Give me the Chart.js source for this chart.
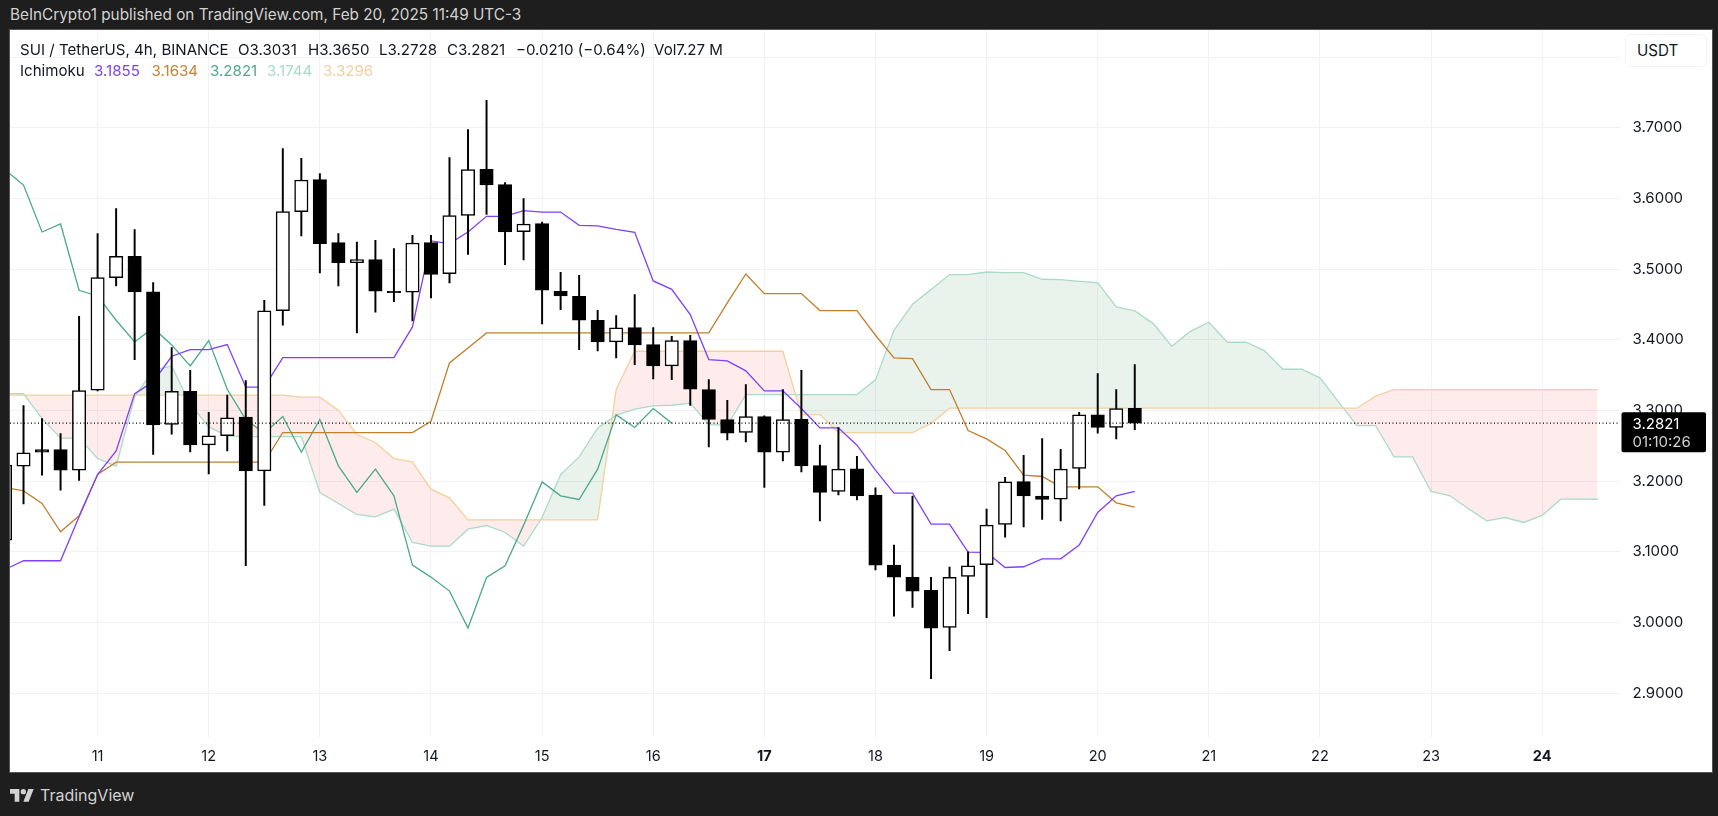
<!DOCTYPE html>
<html>
<head>
<meta charset="utf-8">
<title>SUI / TetherUS Ichimoku</title>
<script src="https://cdn.jsdelivr.net/npm/chart.js@4"></script>
<style>
  html, body { margin: 0; padding: 0; background: #1e1e1e; width: 1718px; height: 816px; overflow: hidden; }
  body { font-family: Inter, "Noto Sans", sans-serif; position: relative; }
  #published { position: absolute; left: 10px; top: 6px; color: #d2d2d2; font-size: 15.3px; line-height: 18px; white-space: nowrap; }
  #frame { position: absolute; left: 10px; top: 30px; width: 1702px; height: 742px; background: #fff; box-shadow: 0 0 0 1px #555; }
  canvas { position: absolute; left: 0; top: -21px; }
  .info { position: absolute; color: #131722; font-size: 15.1px; line-height: 18px; white-space: nowrap; }
  .row1 { top: 11px; }
  .row2 { top: 32px; }
  #usdt { position: absolute; left: 1615px; top: 4px; width: 82px; height: 33px; box-sizing: border-box; border: 1px solid #f0f3fa; border-radius: 6px; background: #fff; color: #131722; font-size: 15.2px; line-height: 32px; padding-left: 11px; }
  #brand { position: absolute; left: 10px; top: 786px; color: #d2d2d2; font-size: 16px; line-height: 18px; }
  #brand svg { position: absolute; left: 0; top: 2px; }
  #brand span { position: absolute; left: 30px; top: 0; }
</style>
</head>
<body>
<div id="published">BeInCrypto1 published on TradingView.com, Feb 20, 2025 11:49 UTC-3</div>
<div id="frame">
  <canvas id="myChart" width="1702" height="763"></canvas>
  <span class="info row1" style="left:10px">SUI / TetherUS, 4h, BINANCE</span>
  <span class="info row1" style="left:228px">O3.3031</span>
  <span class="info row1" style="left:298px">H3.3650</span>
  <span class="info row1" style="left:369px">L3.2728</span>
  <span class="info row1" style="left:437px">C3.2821</span>
  <span class="info row1" style="left:506px">−0.0210 (−0.64%)</span>
  <span class="info row1" style="left:644px">Vol7.27 M</span>
  <span class="info row2" style="left:10px">Ichimoku</span>
  <span class="info row2" style="left:84px;color:#7f3fff">3.1855</span>
  <span class="info row2" style="left:141.5px;color:#c58434">3.1634</span>
  <span class="info row2" style="left:200px;color:#4ca98b">3.2821</span>
  <span class="info row2" style="left:257px;color:#abdac8">3.1744</span>
  <span class="info row2" style="left:313px;color:#f4cf9f">3.3296</span>
  <div id="usdt">USDT</div>
</div>
<div id="brand">
  <svg width="24" height="14" viewBox="0 0 36 20"><path fill="#d2d2d2" d="M14 20H7V8H0V1h14v19zM28 20h-8l7.5-19h8L28 20z"/><circle fill="#d2d2d2" cx="20" cy="5" r="4"/></svg>
  <span>TradingView</span>
</div>
<script>
// x positions are candle numbers, candle 0 is the first bar of the 11th, 6 candles a day
const dayLabels = ['11','12','13','14','15','16','17','18','19','20','21','22','23','24'];
const dayTicks = [0,6,12,18,24,30,36,42,48,54,60,66,72,78];
const boldDays = ['17','24'];
const priceTicks = [2.9,3.0,3.1,3.2,3.3,3.4,3.5,3.6,3.7,3.8];
const firstCandle = -5;
const firstLeadingSpan = -5;
const firstLagging = -5;
const lastPrice = 3.2821;
const countdown = '01:10:26';

const opens = [3.1166,3.2212,3.2448,3.2448,3.2155,3.3286,3.4879,3.5181,3.4677,3.2801,3.3272,3.2513,3.2645,3.2905,3.2146,
  3.4413,3.5812,3.6265,3.5374,3.5091,3.5134,3.4686,3.4672,3.5374,3.4936,3.5760,3.6411,3.6194,3.5530,3.5643,
  3.4686,3.4615,3.4276,3.3970,3.4172,3.3932,3.3630,3.3989,3.3296,3.2872,3.2688,3.2914,3.2410,3.2876,3.2221,
  3.1854,3.2174,3.1802,3.0812,3.0638,3.0454,2.9931,3.0652,3.0817,3.1387,3.1995,3.1788,3.1746,3.2179,3.2938,3.2759,3.3031];
const highs = [3.2226,3.3070,3.2886,3.2674,3.4332,3.5501,3.5855,3.5558,3.4809,3.3890,3.3569,3.2975,3.3216,3.3423,3.4559,
  3.6703,3.6566,3.6350,3.5501,3.5383,3.5407,3.5289,3.5478,3.5478,3.6576,3.6972,3.7386,3.6222,3.5996,3.5666,
  3.4955,3.4912,3.4417,3.4342,3.4639,3.4172,3.4050,3.4064,3.3437,3.3145,3.3367,3.2924,3.3296,3.3569,3.2509,
  3.2759,3.2353,3.1906,3.1095,3.1788,3.0638,3.0784,3.1000,3.1604,3.2056,3.2367,3.2603,3.2452,3.2975,3.3522,3.3296,3.3650];
const lows = [3.1166,3.1679,3.2085,3.1873,3.2009,3.3277,3.4761,3.3720,3.2377,3.2664,3.2414,3.2104,3.2429,3.0803,3.1656,
  3.4205,3.5468,3.4945,3.4761,3.4097,3.4389,3.4540,3.4267,3.4592,3.4804,3.5209,3.5775,3.5063,3.5129,3.4224,
  3.4427,3.3861,3.3842,3.3743,3.3649,3.3447,3.3437,3.3070,3.2485,3.2584,3.2556,3.1910,3.2287,3.2132,3.1439,
  3.1807,3.1736,3.0746,3.0091,3.0214,2.9205,2.9601,3.0124,3.0068,3.1208,3.1354,3.1458,3.1439,3.1892,3.2678,3.2598,3.2728];
const closes = [3.2226,3.2400,3.2410,3.2155,3.3282,3.4879,3.5181,3.4677,3.2796,3.3272,3.2513,3.2641,3.2895,3.2146,3.4408,
  3.5812,3.6260,3.5360,3.5091,3.5134,3.4686,3.4667,3.5369,3.4926,3.5756,3.6406,3.6189,3.5525,3.5638,3.4700,
  3.4620,3.4276,3.3970,3.4168,3.3927,3.3630,3.3989,3.3300,3.2872,3.2678,3.2914,3.2410,3.2872,3.2217,3.1840,
  3.2170,3.1793,3.0812,3.0643,3.0445,2.9922,3.0638,3.0803,3.1378,3.1990,3.1793,3.1741,3.2170,3.2938,3.2759,3.3027,3.2821];

const conversionLine = [3.0751,3.0874,3.0874,3.0874,3.1496,3.2094,3.2429,3.3239,3.3404,3.3767,3.3861,3.3861,3.3932,3.3329,3.3329,
  3.3748,3.3748,3.3748,3.3748,3.3748,3.3748,3.3748,3.4182,3.5398,3.5360,3.5525,3.5746,3.5746,3.5826,3.5807,
  3.5807,3.5619,3.5610,3.5562,3.5520,3.4832,3.4714,3.4356,3.3720,3.3701,3.3560,3.3277,3.3277,3.3027,3.2754,
  3.2754,3.2509,3.2155,3.1830,3.1830,3.1392,3.1392,3.0996,3.0992,3.0779,3.0789,3.0902,3.0902,3.1095,3.1557,3.1793,3.1855];
const baseLine = [3.1910,3.1863,3.1684,3.1283,3.1510,3.2094,3.2268,3.2268,3.2268,3.2268,3.2268,3.2268,3.2268,3.2268,3.2268,
  3.2688,3.2688,3.2688,3.2688,3.2688,3.2688,3.2688,3.2688,3.2848,3.3673,3.3885,3.4097,3.4097,3.4097,3.4097,
  3.4097,3.4097,3.4097,3.4097,3.4097,3.4097,3.4097,3.4097,3.4097,3.4521,3.4931,3.4653,3.4653,3.4653,3.4413,
  3.4413,3.4413,3.4064,3.3743,3.3734,3.3296,3.3296,3.2716,3.2598,3.2433,3.2085,3.2066,3.1920,3.1920,3.1920,3.1694,3.1634];
const laggingSpan = [3.6406,3.6189,3.5525,3.5638,3.4700,3.4620,3.4276,3.3970,3.4168,3.3927,3.3630,3.3989,3.3300,3.2872,3.2678,
  3.2914,3.2410,3.2872,3.2217,3.1840,3.2170,3.1793,3.0812,3.0643,3.0445,2.9922,3.0638,3.0803,3.1378,3.1990,
  3.1793,3.1741,3.2170,3.2938,3.2759,3.3027,3.2821];
const leadingSpanA = [3.3239,3.3239,3.2886,3.2608,3.2608,3.2320,3.2212,3.3192,3.3569,3.3630,3.3088,3.2768,3.2641,3.2631,3.2631,
  3.2631,3.2631,3.1840,3.1684,3.1529,3.1496,3.1604,3.1133,3.1081,3.1081,3.1321,3.1373,3.1274,3.1081,3.1486,
  3.2094,3.2344,3.2749,3.2933,3.3018,3.3065,3.3074,3.3103,3.2801,3.2791,3.3225,3.3225,3.3225,3.3225,3.3225,
  3.3225,3.3225,3.3433,3.4135,3.4502,3.4710,3.4922,3.4922,3.4959,3.4950,3.4950,3.4856,3.4851,3.4827,3.4808,
  3.4465,3.4408,3.4229,3.3908,3.4120,3.4248,3.3965,3.3965,3.3847,3.3583,3.3583,3.3461,3.3121,3.2787,3.2787,
  3.2344,3.2344,3.1854,3.1797,3.1614,3.1439,3.1486,3.1416,3.1515,3.1745,3.1745,3.1744];
const leadingSpanB = [3.3216,3.3216,3.3216,3.3216,3.3216,3.3216,3.3216,3.3216,3.3216,3.3216,3.3216,3.3216,3.3216,3.3216,3.3216,
  3.3216,3.3188,3.3188,3.3004,3.2660,3.2547,3.2320,3.2273,3.1887,3.1764,3.1453,3.1453,3.1453,3.1453,3.1453,
  3.1453,3.1453,3.1453,3.3296,3.3838,3.3838,3.3838,3.3838,3.3838,3.3838,3.3838,3.3838,3.3838,3.2942,3.2942,
  3.2688,3.2688,3.2688,3.2688,3.2688,3.2815,3.3032,3.3032,3.3032,3.3032,3.3032,3.3032,3.3032,3.3032,3.3032,
  3.3032,3.3032,3.3032,3.3032,3.3032,3.3032,3.3032,3.3032,3.3032,3.3032,3.3032,3.3032,3.3032,3.3032,3.3202,
  3.3296,3.3296,3.3296,3.3296,3.3296,3.3296,3.3296,3.3296,3.3296,3.3296,3.3296,3.3296];

const xMin = -4.73, xMax = 82.2;
const yMin = 2.8381, yMax = 3.8375;

function points(start, values) {
  return values.map((v, k) => ({ x: start + k, y: v }));
}

const candleX = closes.map((c, k) => firstCandle + k);
const wickData = candleX.map((x, k) => ({ x: x, y: [lows[k], highs[k]] }));
const bodyData = candleX.map((x, k) => ({ x: x, y: [opens[k], closes[k]] }));
const bodyFill = closes.map((c, k) => c >= opens[k] ? '#ffffff' : '#000000');

function lineSet(label, data, color, order, width) {
  return { type: 'line', label: label, data: data, borderColor: color, borderWidth: width, pointRadius: 0, tension: 0, fill: false, order: order };
}

// draws the black last price tag over the axis
const priceTag = {
  id: 'priceTag',
  afterDraw(chart) {
    const c = chart.ctx;
    const y = chart.scales.y.getPixelForValue(lastPrice);
    const left = chart.chartArea.right + 1.5;
    c.save();
    c.fillStyle = '#000';
    c.beginPath();
    c.roundRect(left, y - 11, 84.5, 40, 2);
    c.fill();
    c.font = '15px Inter, "Noto Sans", sans-serif';
    c.textAlign = 'left';
    c.textBaseline = 'middle';
    c.fillStyle = '#fff';
    c.fillText(lastPrice.toFixed(4), left + 11, y + 1);
    c.fillStyle = '#d0d0d0';
    c.fillText(countdown, left + 11, y + 19);
    c.restore();
  }
};

new Chart(document.getElementById('myChart'), {
  data: {
    datasets: [
      Object.assign(lineSet('Leading Span A', points(firstLeadingSpan, leadingSpanA), '#abdac8', 9, 1.3), {
        fill: { target: 1, above: 'rgba(76,160,90,0.12)', below: 'rgba(240,80,70,0.11)' }
      }),
      lineSet('Leading Span B', points(firstLeadingSpan, leadingSpanB), '#f4cf9f', 8, 1.3),
      lineSet('Lagging Span', points(firstLagging, laggingSpan), '#4ca98b', 7, 1.3),
      lineSet('Base Line', points(firstCandle, baseLine), '#c17f2e', 6, 1.3),
      lineSet('Conversion Line', points(firstCandle, conversionLine), '#7f3fff', 5, 1.3),
      { type: 'bar', label: 'Wicks', data: wickData, backgroundColor: '#000', barThickness: 1.3, grouped: false, order: 3 },
      { type: 'bar', label: 'Candles', data: bodyData, backgroundColor: bodyFill, borderColor: '#000', borderWidth: 1.5, borderSkipped: false, barThickness: 13.4, grouped: false, order: 2 },
      Object.assign(lineSet('Last price', [{ x: xMin, y: lastPrice }, { x: xMax, y: lastPrice }], '#000', 1, 1.2), { borderDash: [1, 2.5] })
    ]
  },
  options: {
    responsive: false,
    animation: false,
    layout: { autoPadding: false, padding: 0 },
    plugins: { legend: { display: false }, tooltip: { enabled: false } },
    scales: {
      x: {
        type: 'linear',
        offset: false,
        bounds: 'data',
        min: xMin,
        max: xMax,
        afterFit: (s) => { s.height = 35; },
        afterBuildTicks: (s) => { s.ticks = dayTicks.map(v => ({ value: v })); },
        grid: { color: '#f1f2f5', lineWidth: 1, drawTicks: false, offset: false },
        border: { display: false },
        ticks: {
          autoSkip: false,
          maxRotation: 0,
          padding: 11,
          color: '#131722',
          font: (ctx) => ({
            family: 'Inter, "Noto Sans", sans-serif',
            size: 14.5,
            weight: ctx.tick && boldDays.includes(dayLabels[ctx.tick.value / 6]) ? 'bold' : 'normal'
          }),
          callback: (v) => dayLabels[v / 6]
        }
      },
      y: {
        position: 'right',
        offset: false,
        bounds: 'data',
        min: yMin,
        max: yMax,
        afterFit: (s) => { s.width = 92; },
        afterBuildTicks: (s) => { s.ticks = priceTicks.map(v => ({ value: v })); },
        grid: { color: '#f1f2f5', lineWidth: 1, drawTicks: false },
        border: { display: false },
        ticks: {
          padding: 12.5,
          color: '#131722',
          font: { family: 'Inter, "Noto Sans", sans-serif', size: 15 },
          callback: (v) => v > 3.75 ? '' : v.toFixed(4)
        }
      }
    }
  },
  plugins: [priceTag]
});
</script>
</body>
</html>
